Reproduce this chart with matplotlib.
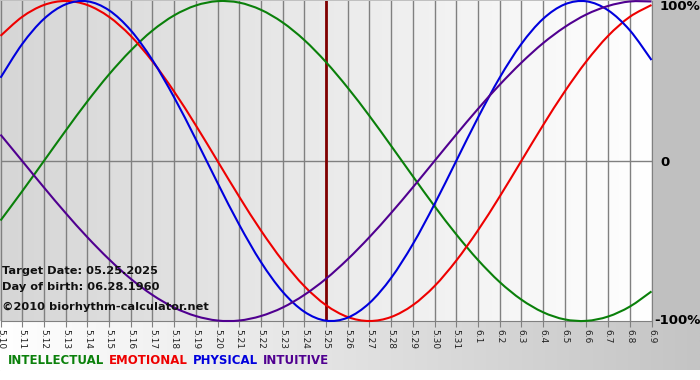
import numpy as np
import matplotlib
matplotlib.use("Agg")
import matplotlib.pyplot as plt
from matplotlib.colors import LinearSegmentedColormap
from matplotlib.patches import Rectangle, PathPatch
from matplotlib.path import Path

# days shown, 5.10 ... 6.9
dates = ["5.10", "5.11", "5.12", "5.13", "5.14", "5.15", "5.16", "5.17", "5.18", "5.19",
         "5.20", "5.21", "5.22", "5.23", "5.24", "5.25", "5.26", "5.27", "5.28", "5.29",
         "5.30", "5.31", "6.1", "6.2", "6.3", "6.4", "6.5", "6.6", "6.7", "6.8", "6.9"]
target_idx = 15  # 5.25

intellectual = [-0.372, -0.189, 0.0, 0.189, 0.372, 0.541, 0.690, 0.815, 0.910, 0.972,
                0.999, 0.990, 0.945, 0.866, 0.756, 0.618, 0.458, 0.282, 0.095, -0.095,
                -0.282, -0.458, -0.618, -0.756, -0.866, -0.945, -0.990, -0.999, -0.972, -0.910,
                -0.815]
emotional = [0.782, 0.901, 0.975, 1.0, 0.975, 0.901, 0.782, 0.623, 0.434, 0.223,
             0.0, -0.223, -0.434, -0.623, -0.782, -0.901, -0.975, -1.0, -0.975, -0.901,
             -0.782, -0.623, -0.434, -0.223, 0.0, 0.223, 0.434, 0.623, 0.782, 0.901,
             0.975]
physical = [0.520, 0.731, 0.888, 0.979, 0.998, 0.942, 0.817, 0.631, 0.398, 0.136,
            -0.136, -0.398, -0.631, -0.817, -0.942, -0.998, -0.979, -0.888, -0.731, -0.520,
            -0.270, 0.0, 0.270, 0.520, 0.731, 0.888, 0.979, 0.998, 0.942, 0.817,
            0.631]
intuitive = [0.165, 0.0, -0.165, -0.325, -0.476, -0.614, -0.736, -0.837, -0.916, -0.969,
             -0.997, -0.997, -0.969, -0.916, -0.837, -0.736, -0.614, -0.476, -0.325, -0.165,
             0.0, 0.165, 0.325, 0.476, 0.614, 0.736, 0.837, 0.916, 0.969, 0.997,
             0.997]

series = [("INTELLECTUAL", intellectual, "#0a800a"),
          ("EMOTIONAL", emotional, "#ee0000"),
          ("PHYSICAL", physical, "#0000dd"),
          ("INTUITIVE", intuitive, "#500090")]


def smooth_path(xs, ys):
    # bezier segments through the points (catmull-rom tangents)
    xs = np.asarray(xs, float)
    ys = np.asarray(ys, float)
    n = len(xs)
    verts = [(xs[0], ys[0])]
    codes = [Path.MOVETO]
    for i in range(n - 1):
        x0, y0 = (xs[i - 1], ys[i - 1]) if i > 0 else (xs[i], ys[i])
        x3, y3 = (xs[i + 2], ys[i + 2]) if i + 2 < n else (xs[i + 1], ys[i + 1])
        c1 = (xs[i] + (xs[i + 1] - x0) / 6, ys[i] + (ys[i + 1] - y0) / 6)
        c2 = (xs[i + 1] - (x3 - xs[i]) / 6, ys[i + 1] - (y3 - ys[i]) / 6)
        verts += [c1, c2, (xs[i + 1], ys[i + 1])]
        codes += [Path.CURVE4] * 3
    return Path(verts, codes)


W, H = 700, 380
fig = plt.figure(figsize=(7, 3.8), dpi=100, facecolor="#c0c0c0")

# bottom strip, white -> grey
strip = fig.add_axes([0, 10 / H, 1, 49 / H])
strip.imshow(np.linspace(0, 1, 256).reshape(1, -1), aspect="auto", extent=[0, 1, 0, 1],
             cmap=LinearSegmentedColormap.from_list("s", ["#ffffff", "#c4c4c4"]))
strip.axis("off")
fig.add_artist(Rectangle((0, 0), 1, 10 / H, transform=fig.transFigure, color="white", zorder=0))

x = np.arange(len(dates))
ax = fig.add_axes([0.5 / W, 59 / H, 651 / W, 320 / H])
ax.imshow(np.linspace(0, 1, 256).reshape(1, -1), aspect="auto", extent=[0, 30, -1, 1], zorder=0,
          cmap=LinearSegmentedColormap.from_list("g", ["#d6d6d6", "#ffffff"]))
ax.set_xlim(0, len(dates) - 1)
ax.set_ylim(-1, 1)

for i in x:
    ax.axvline(i, color="#808080", lw=1, zorder=1)
ax.axhline(0, color="#808080", lw=1, zorder=1)
ax.axvline(target_idx, color="#800000", lw=2, zorder=2)

for name, vals, col in series:
    ax.add_patch(PathPatch(smooth_path(x, vals), fill=False, edgecolor=col, lw=1.5,
                           zorder=3, clip_on=False))

ax.set_xticks(x)
ax.set_xticklabels(dates, rotation=-90, fontsize=6.5, color="#222222")
ax.tick_params(axis="x", length=4, color="#808080", pad=2)
ax.set_yticks([])
for s in ["top", "left"]:
    ax.spines[s].set_visible(False)
ax.spines["bottom"].set_color("#808080")
ax.spines["right"].set_color("#808080")

info = dict(fontsize=8.2, fontweight="bold", color="#111111", va="center")
fig.text(2 / W, 1 - 271 / H, "Target Date: 05.25.2025", **info)
fig.text(2 / W, 1 - 287 / H, "Day of birth: 06.28.1960", **info)
fig.text(2 / W, 1 - 307 / H, "\u00a92010 biorhythm-calculator.net", **info)

fig.text(660 / W, 1 - 7 / H, "100%", va="center", fontsize=9.5, fontweight="bold")
fig.text(660 / W, 1 - 162 / H, "0", va="center", fontsize=9.5, fontweight="bold")
fig.text(654 / W, 1 - 321 / H, "-100%", va="center", fontsize=9.5, fontweight="bold")

# legend
xpos = 8
for name, vals, col in series:
    t = fig.text(xpos / W, 1 - 361 / H, name, va="center", fontsize=8.5, fontweight="bold", color=col)
    fig.canvas.draw()
    bb = t.get_window_extent()
    xpos = bb.x1 + 5

fig.savefig("out.png", dpi=100, facecolor=fig.get_facecolor())
